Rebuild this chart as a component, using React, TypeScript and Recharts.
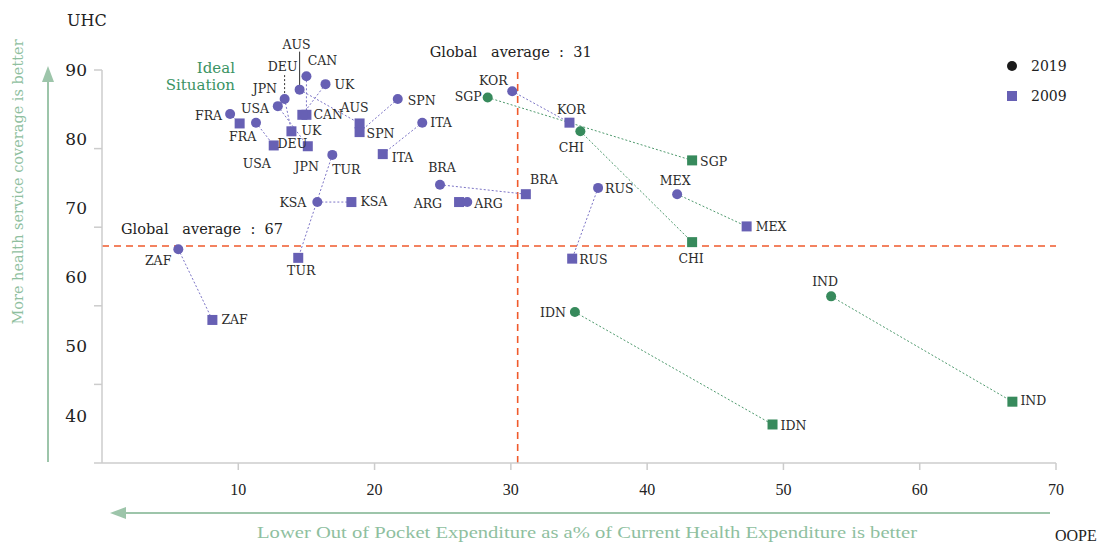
import React from "react"
import { ScatterChart, Scatter, XAxis, YAxis, ReferenceLine, Legend } from "recharts"

// country codes and the two survey years
const countries = ["FRA", "USA", "JPN", "DEU", "AUS", "CAN", "UK", "SPN", "ITA", "TUR", "KSA", "BRA", "ARG", "KOR", "SGP", "CHI", "RUS", "MEX", "ZAF", "IDN", "IND"]
const oope2019 = [9.4, 11.3, 12.9, 13.4, 14.5, 15.0, 16.4, 21.7, 23.5, 16.9, 15.8, 24.8, 26.8, 30.1, 28.3, 35.1, 36.4, 42.2, 5.6, 34.7, 53.5]
const uhc2019 = [84.4, 83.3, 85.4, 86.3, 87.5, 89.2, 88.2, 86.3, 83.3, 79.2, 73.2, 75.4, 73.2, 87.3, 86.5, 82.2, 75.0, 74.2, 67.2, 59.2, 61.2]
const oope2009 = [10.1, 12.6, 15.1, 13.9, 18.9, 15.0, 14.7, 18.9, 20.6, 14.4, 18.3, 31.1, 26.2, 34.3, 43.3, 43.3, 34.5, 47.3, 8.1, 49.2, 66.8]
const uhc2009 = [83.2, 80.4, 80.3, 82.2, 83.2, 84.3, 84.3, 82.1, 79.3, 66.1, 73.2, 74.2, 73.2, 83.3, 78.5, 68.1, 66.0, 70.1, 58.2, 44.9, 47.8]

const greenMarkers = ["SGP", "CHI", "IDN", "IND"]
const greenLinks = ["SGP", "CHI", "IDN", "IND", "MEX"]

const xTicks = [10, 20, 30, 40, 50, 60, 70]
const yTicks = [40, 50, 60, 70, 80, 90]

const avgOope = 30.5
const avgOopeLabel = "Global   average  :  31"
const avgUhc = 67.6
const avgUhcLabel = "Global   average  :  67"

const PURPLE = "#6760b4"
const GREEN = "#378a5c"
const LINK_PURPLE = "#7c74c6"
const LINK_GREEN = "#4f9a6e"
const REF = "#f05a2c"
const HINT = "#8fbf9f"
const AXIS = "#cccccc"
const SERIF = "'DejaVu Serif', serif"

// where each country label sits relative to its marker: dx, dy, anchor
const labelPos: Record<string, [number, number, string]> = {
  "FRA-2019": [-8, 1, "end"],
  "USA-2019": [-1, -14, "middle"],
  "JPN-2019": [-13, -18, "middle"],
  "DEU-2019": [-2, -33, "middle"],
  "AUS-2019": [-3, -45, "middle"],
  "CAN-2019": [16, -16, "middle"],
  "UK-2019": [9, 0, "start"],
  "SPN-2019": [10, 1, "start"],
  "ITA-2019": [8, 0, "start"],
  "TUR-2019": [14, 15, "middle"],
  "KSA-2019": [-11, 0, "end"],
  "BRA-2019": [2, -17, "middle"],
  "ARG-2019": [7, 1, "start"],
  "KOR-2019": [-19, -11, "middle"],
  "SGP-2019": [-6, -1, "end"],
  "CHI-2019": [-9, 16, "middle"],
  "RUS-2019": [7, 1, "start"],
  "MEX-2019": [-2, -14, "middle"],
  "ZAF-2019": [-7, 11, "end"],
  "IDN-2019": [-9, 0, "end"],
  "IND-2019": [-6, -15, "middle"],
  "FRA-2009": [3, 13, "middle"],
  "USA-2009": [-17, 18, "middle"],
  "DEU-2009": [1, 12, "middle"],
  "UK-2009": [9, 16, "middle"],
  "CAN-2009": [7, 0, "start"],
  "JPN-2009": [-1, 20, "middle"],
  "AUS-2009": [-5, -16, "middle"],
  "SPN-2009": [7, 1, "start"],
  "ITA-2009": [9, 3, "start"],
  "TUR-2009": [3, 13, "middle"],
  "KSA-2009": [9, -1, "start"],
  "BRA-2009": [18, -15, "middle"],
  "ARG-2009": [-17, 1, "end"],
  "KOR-2009": [2, -13, "middle"],
  "SGP-2009": [8, 1, "start"],
  "CHI-2009": [-1, 16, "middle"],
  "RUS-2009": [7, 1, "start"],
  "MEX-2009": [9, 0, "start"],
  "ZAF-2009": [9, 0, "start"],
  "IDN-2009": [8, 1, "start"],
  "IND-2009": [8, -1, "start"],
}

const points2019 = countries.map((name, i) => ({ name, year: 2019, x: oope2019[i], y: uhc2019[i] }))
const points2009 = countries.map((name, i) => ({ name, year: 2009, x: oope2009[i], y: uhc2009[i] }))

function MarkLabel({ cx, cy, payload }: any) {
  const [dx, dy, anchor] = labelPos[`${payload.name}-${payload.year}`] || [8, 0, "start"]
  return (
    <text x={cx + dx} y={cy + dy} dy="0.36em" textAnchor={anchor as any} fontSize={12.5} fontFamily={SERIF} fill="#2b2b2b">
      {payload.name}
    </text>
  )
}

function CircleMark(props: any) {
  const { cx, cy, payload } = props
  const fill = greenMarkers.includes(payload.name) ? GREEN : PURPLE
  return (
    <g>
      {payload.name === "AUS" && <line x1={cx} y1={cy - 38} x2={cx} y2={cy - 3} stroke="#333" strokeWidth={1} />}
      {payload.name === "DEU" && <line x1={cx} y1={cy - 24} x2={cx} y2={cy - 5} stroke="#333" strokeWidth={1} strokeDasharray="2 2" />}
      <circle cx={cx} cy={cy} r={5} fill={fill} />
      <MarkLabel {...props} />
    </g>
  )
}

function SquareMark(props: any) {
  const { cx, cy, payload } = props
  const fill = greenMarkers.includes(payload.name) ? GREEN : PURPLE
  return (
    <g>
      <rect x={cx - 5} y={cy - 5} width={10} height={10} fill={fill} />
      <MarkLabel {...props} />
    </g>
  )
}

function XTick({ x, y, payload }: any) {
  return (
    <text x={x} y={y} dy={23} textAnchor="middle" fontSize={16} fontFamily="'Liberation Serif', serif" fill="#222">
      {payload.value}
    </text>
  )
}

// the printed numbers sit a little higher than their tick marks, more so lower down
function YTick({ x, y, payload }: any) {
  const lift = (90 - payload.value) * 0.95
  return (
    <text x={x} y={y - lift} dy={6} textAnchor="end" fontSize={17} fontFamily={SERIF} fill="#222">
      {payload.value}
    </text>
  )
}

function LegendBox() {
  const row = { display: "flex", alignItems: "center", height: 30, fontFamily: SERIF, fontSize: 14, color: "#222" }
  return (
    <div>
      <div style={row}>
        <svg width={14} height={14} style={{ marginRight: 12 }}>
          <circle cx={7} cy={7} r={5} fill="#1a1a1a" />
        </svg>
        2019
      </div>
      <div style={row}>
        <svg width={14} height={14} style={{ marginRight: 12 }}>
          <rect x={2} y={2} width={10} height={10} fill={PURPLE} />
        </svg>
        2009
      </div>
    </div>
  )
}

export default function App() {
  return (
    <div style={{ position: "absolute", left: 0, top: 0, width: 1114, height: 545, background: "#fff" }}>
      <ScatterChart width={1114} height={545} margin={{ top: 70, right: 58, bottom: 52, left: 62 }}>
        <XAxis
          type="number"
          dataKey="x"
          domain={[0, 70]}
          ticks={xTicks}
          height={30}
          tickSize={7}
          axisLine={{ stroke: AXIS, strokeWidth: 1.5 }}
          tickLine={{ stroke: AXIS, strokeWidth: 1.5 }}
          tick={<XTick />}
        />
        <YAxis
          type="number"
          dataKey="y"
          domain={[40, 90]}
          ticks={yTicks}
          width={40}
          tickSize={8}
          tickMargin={7}
          axisLine={{ stroke: AXIS, strokeWidth: 1.5 }}
          tickLine={{ stroke: AXIS, strokeWidth: 1.5 }}
          tick={<YTick />}
        />
        <ReferenceLine
          y={avgUhc}
          stroke={REF}
          strokeWidth={1.6}
          strokeDasharray="7 5"
          label={({ viewBox }: any) => (
            <text x={viewBox.x + 19} y={viewBox.y - 12} fontSize={14.5} fontFamily={SERIF} fill="#222" style={{ whiteSpace: "pre" }}>
              {avgUhcLabel}
            </text>
          )}
        />
        <ReferenceLine
          x={avgOope}
          stroke={REF}
          strokeWidth={1.6}
          strokeDasharray="7 5"
          label={({ viewBox }: any) => (
            <text x={viewBox.x - 7} y={viewBox.y - 13} textAnchor="middle" fontSize={14.5} fontFamily={SERIF} fill="#222" style={{ whiteSpace: "pre" }}>
              {avgOopeLabel}
            </text>
          )}
        />
        {countries.map((name, i) => (
          <Scatter
            key={`link-${name}`}
            data={[points2019[i], points2009[i]]}
            line={{ stroke: greenLinks.includes(name) ? LINK_GREEN : LINK_PURPLE, strokeWidth: 1, strokeDasharray: "2 2" }}
            lineType="joint"
            shape={() => <g />}
            legendType="none"
            isAnimationActive={false}
          />
        ))}
        <Scatter name="2009" data={points2009} shape={SquareMark} isAnimationActive={false} />
        <Scatter name="2019" data={points2019} shape={CircleMark} isAnimationActive={false} />
        <Legend
          layout="vertical"
          align="center"
          verticalAlign="middle"
          content={() => <LegendBox />}
          wrapperStyle={{ left: 1005, top: 51, width: 90, height: 60 }}
        />
      </ScatterChart>

      <svg width={1114} height={545} style={{ position: "absolute", left: 0, top: 0, pointerEvents: "none" }}>
        <text x={67} y={26} fontSize={16} fontFamily={SERIF} fill="#222">UHC</text>
        <text x={1055} y={541} fontSize={16} fontFamily="'Liberation Serif', serif" fill="#222">OOPE</text>

        <text fontSize={15} fontFamily={SERIF} fill="#3a9363" textAnchor="end">
          <tspan x={235} y={73}>Ideal</tspan>
          <tspan x={235} y={90}>Situation</tspan>
        </text>

        <line x1={48} y1={462} x2={48} y2={80} stroke="#9dc5aa" strokeWidth={2} />
        <polygon points="48,66 42,82 54,82" fill="#9dc5aa" />
        <text
          x={0}
          y={0}
          transform="translate(23 182) rotate(-90)"
          textAnchor="middle"
          fontSize={14.5}
          fontFamily={SERIF}
          fill={HINT}
        >
          More health service coverage is better
        </text>

        <line x1={1050} y1={513} x2={124} y2={513} stroke="#9dc5aa" strokeWidth={2} />
        <polygon points="110,513 126,507 126,519" fill="#9dc5aa" />
        <text
          x={587}
          y={538}
          textAnchor="middle"
          fontSize={17}
          textLength={660}
          lengthAdjust="spacingAndGlyphs"
          fontFamily="'Liberation Serif', serif"
          fill={HINT}
        >
          Lower Out of Pocket Expenditure as a% of Current Health Expenditure is better
        </text>
      </svg>
    </div>
  )
}
